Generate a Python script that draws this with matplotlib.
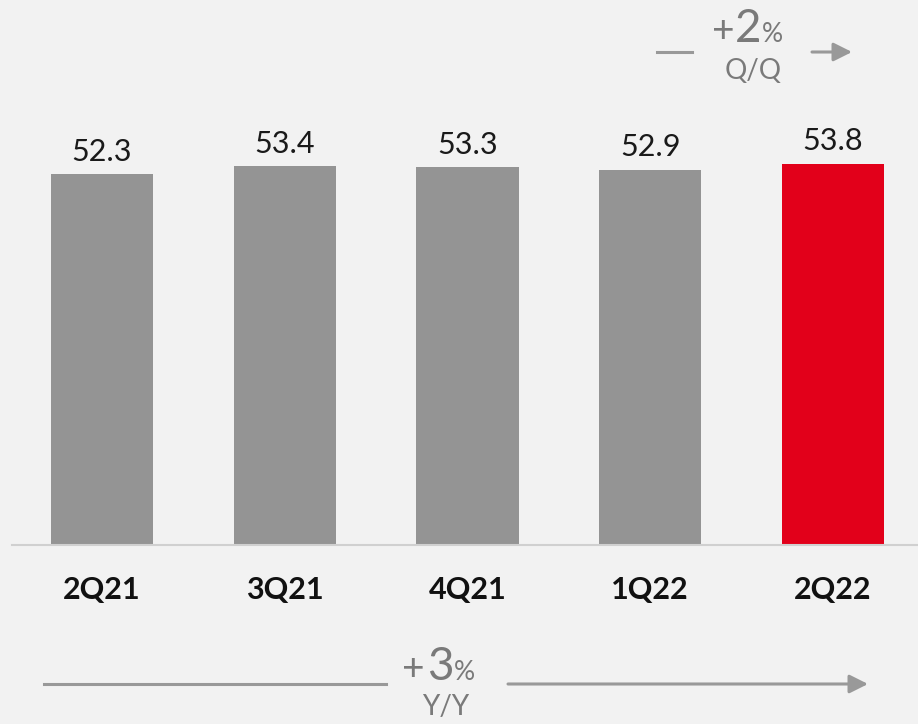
import matplotlib
matplotlib.use("Agg")
import matplotlib.pyplot as plt

quarters = ["2Q21", "3Q21", "4Q21", "1Q22", "2Q22"]
values = [52.3, 53.4, 53.3, 52.9, 53.8]
bar_colors = ["#949494", "#949494", "#949494", "#949494", "#e2001a"]

W, H = 918, 724
BG = "#f2f2f2"
TXT = "#7a7a7a"
LINE = "#999999"

plt.rcParams["font.family"] = ["Lato", "DejaVu Sans"]

fig = plt.figure(figsize=(W / 100, H / 100), dpi=100, facecolor=BG)

# axes bottom sits on the baseline (545 px from top)
base_px = 545
ax = fig.add_axes([12 / W, (H - base_px) / H, (W - 12) / W, base_px / H])
ax.set_facecolor(BG)
step = 182.75
ax.set_xlim(-(102 - 12) / step, (W - 102) / step)
ax.set_ylim(0, base_px / 7.09)

xs = range(len(quarters))
ax.bar(xs, values, width=0.56, color=bar_colors)
for x, v in zip(xs, values):
    ax.text(x, v + 1.2, f"{v:.1f}", ha="center", va="bottom", fontsize=22, color="#1a1a1a")

ax.set_xticks(list(xs))
ax.set_xticklabels(quarters, fontsize=22, fontweight="bold", color="#111111")
ax.tick_params(axis="x", length=0, pad=22)
ax.set_yticks([])
for s in ["top", "left", "right"]:
    ax.spines[s].set_visible(False)
ax.spines["bottom"].set_color("#d0d0d0")
ax.spines["bottom"].set_linewidth(1.5)


def fx(px):
    return px / W


def fy(py):
    return 1 - py / H


def arrow(x0, x1, y, head=True):
    if head:
        fig.add_artist(matplotlib.patches.FancyArrowPatch(
            (fx(x0), fy(y)), (fx(x1), fy(y)), transform=fig.transFigure,
            arrowstyle="-|>,head_length=0.8,head_width=0.4", mutation_scale=14,
            color=LINE, lw=2.2, shrinkA=0, shrinkB=0))
    else:
        fig.add_artist(matplotlib.lines.Line2D([fx(x0), fx(x1)], [fy(y), fy(y)],
                                               transform=fig.transFigure, color=LINE, lw=2.2))


def growth(x_plus, x_num, x_pct, base_y, num, label, label_x, label_y):
    fig.text(fx(x_plus), fy(base_y), "+", fontsize=28, color=TXT, va="baseline")
    fig.text(fx(x_num), fy(base_y), num, fontsize=33, color=TXT, va="baseline")
    fig.text(fx(x_pct), fy(base_y), "%", fontsize=19, color=TXT, va="baseline")
    fig.text(fx(label_x), fy(label_y), label, fontsize=20, color=TXT,
             ha="center", va="center")


# Q/Q
arrow(657, 692, 52, head=False)
arrow(812, 852, 52)
growth(712, 735, 762, 42, "2", "Q/Q", 753, 71)

# Y/Y
arrow(44, 386, 684, head=False)
arrow(508, 868, 684)
growth(402, 427, 454, 680, "3", "Y/Y", 446, 707)

fig.savefig("out.png", dpi=100, facecolor=BG)
